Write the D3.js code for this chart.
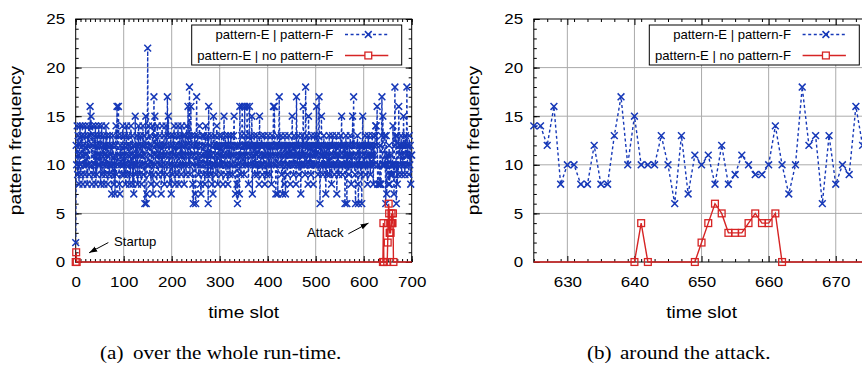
<!DOCTYPE html>
<html lang="en">
<head>
<meta charset="UTF-8">
<title>pattern frequency per time slot</title>
<style>
  body { margin: 0; background: #fff; }
  svg { display: block; }
</style>
<script src="https://d3js.org/d3.v7.min.js"></script>
</head>
<body>
<div id="chart"></div>
<script>
// blue series: pattern-E | pattern-F, one value per time slot (index = slot)
const bothValues = [
  2,12,10,14,9, 13,11,8,12,14, 10,9,13,11,14, 8,12,10,13,9, 14,11,10,12,8,
  13,10,14,9,12, 16,13,15,10,8, 14,12,9,11,13, 10,14,8,12,9, 13,11,10,14,12,
  10,13,8,11,14, 9,12,10,13,8, 11,12,9,14,10, 13,11,8,12,10, 9,13,11,12,10,
  7,12,9,13,10, 8,11,7,12,14, 9,16,10,13,16, 11,8,7,12,10, 13,9,11,14,10,
  12,9,13,11,8, 10,14,12,9,11, 13,10,8,12,9, 14,11,10,13,8, 12,7,10,11,15,
  9,12,10,13,8, 11,14,12,9,10, 13,11,8,12,10, 14,9,13,11,6, 12,15,6,7,10,
  22,10,14,12,9, 13,11,8,12,10, 14,7,9,17,11, 15,10,13,12,8, 14,11,9,12,10,
  13,11,12,7,10, 14,9,12,11,13, 8,10,12,14,11, 9,17,13,15,10, 12,8,11,13,7,
  10,12,9,13,11, 14,10,8,12,11, 13,9,10,14,12, 8,11,13,10,12, 9,14,11,10,13,
  12,8,11,13,10, 9,14,12,11,16, 10,13,18,9,12, 16,11,13,10,8, 6,12,11,13,7,
  6,12,17,10,13, 11,9,12,14,10, 8,7,11,13,12, 10,9,13,11,8, 12,14,10,11,9,
  13,6,16,11,10, 12,9,13,11,8, 10,7,15,12,10, 13,11,9,12,14, 10,8,12,11,13,
  10,12,11,9,13, 10,12,8,11,15, 12,10,13,9,11, 12,10,8,13,11, 12,9,10,13,11,
  12,10,9,11,13, 15,12,10,7,11, 12,8,6,12,10, 11,7,16,12,9, 11,13,16,10,12,
  11,9,16,12,10, 13,11,16,12,10, 8,12,16,11,13, 10,12,15,7,11, 12,10,13,9,12,
  10,12,11,13,9, 12,10,8,15,12, 11,10,13,12,9, 11,10,12,13,8, 11,12,10,9,12,
  11,13,10,12,9, 11,12,10,8,13, 12,11,16,10,16, 12,11,7,10,12, 13,7,11,12,17,
  12,10,11,13,9, 12,7,10,11,12, 8,13,7,11,12, 10,9,12,11,13, 10,12,8,11,12,
  10,15,12,11,9, 13,10,12,11,8, 17,12,10,11,13, 9,12,10,11,7, 12,10,13,11,16,
  12,10,11,9,18, 12,10,13,11,8, 15,12,10,11,12, 9,13,10,12,11, 8,12,10,13,11,
  12,10,16,11,13, 9,12,17,10,6, 12,11,15,10,12, 9,11,13,10,12, 11,7,10,12,9,
  11,12,10,13,9, 12,11,10,8,12, 13,10,11,12,9, 10,12,11,13,7, 10,12,11,9,12,
  10,11,13,12,15, 10,9,12,11,10, 12,6,10,13,11, 6,12,10,11,9, 12,10,13,11,8,
  12,10,15,11,17, 12,10,9,6,11, 12,10,13,8,6, 12,10,11,12,9, 10,6,12,15,10,
  11,12,10,13,9, 12,11,10,8,12, 13,11,10,12,9, 11,12,10,13,11, 8,12,10,11,13,
  14,14,12,16,8, 10,10,8,8,12, 8,8,13,17,10, 15,10,10,10,13, 10,6,13,7,11,
  10,11,8,12,8, 9,11,10,9,9, 10,14,10,7,10, 18,12,13,6,13, 8,10,9,16,12,
  11,12,10,13,9, 12,11,10,15,12, 10,9,13,11,12, 18,10,12,11,9, 13,10,12,8,11,
  11
];

// red series: pattern-E | no pattern-F
const onlySlots  = [0, 1, 2, 640, 641, 642, 649, 650, 651, 652, 653, 654, 655, 656, 657, 658, 659, 660, 661, 662, 710];
const onlyValues = [0, 1, 0, 0,   4,   0,   0,   2,   4,   6,   5,   3,   3,   3,   4,   5,   4,   4,   5,   0,   0];

const seriesNames = ["pattern-E | pattern-F", "pattern-E | no pattern-F"];
const yTicks = [0, 5, 10, 15, 20, 25];

const blue = "#1638b8", red = "#d62424";
const sans = "'Liberation Sans', Arial, Helvetica, sans-serif";
const serif = "'Liberation Serif', 'Times New Roman', serif";

const both = bothValues.map((v, i) => ({slot: i, v: v}));
const only = onlySlots.map((s, i) => ({slot: s, v: onlyValues[i]}));

const svg = d3.select("#chart").append("svg")
  .attr("width", 862)
  .attr("height", 365);

const defs = svg.append("defs");
defs.append("marker")
  .attr("id", "arrow")
  .attr("viewBox", "0 0 10 10")
  .attr("refX", 10).attr("refY", 5)
  .attr("markerWidth", 8).attr("markerHeight", 8)
  .attr("markerUnits", "userSpaceOnUse")
  .attr("orient", "auto")
  .append("path").attr("d", "M0,1.5L10,5L0,8.5z").attr("fill", "#000");

// text stretched horizontally (the original figure is wider than plain Arial)
function sText(g, x, y, str, size, sx, anchor, family) {
  return g.append("text")
    .attr("transform", `translate(${x},${y}) scale(${sx},1)`)
    .attr("text-anchor", anchor)
    .style("font-family", family || sans)
    .style("font-size", size + "px")
    .attr("fill", "#000")
    .text(str);
}

const plotTop = 19, plotH = 243;

const panels = [
  {id: "a", left: 75.7, width: 336, domain: [0, 700], xTicks: d3.range(0, 701, 100), minor: 10,
   caption: ["(a)", "over the whole run-time."], capX: 100, notes: true},
  {id: "b", left: 533.8, width: 335.5, domain: [625, 675], xTicks: [630, 640, 650, 660, 670], minor: 2,
   caption: ["(b)", "around the attack."], capX: 587, notes: false}
];

const notes = [
  {text: "Startup", x: 80, y: 2.1, anchor: "start", from: [68, 2.0], to: [28, 0.95]},
  {text: "Attack", x: 558, y: 3.0, anchor: "end", from: [568, 2.9], to: [610, 4.0]}
];

panels.forEach(p => {
  const g = svg.append("g").attr("transform", `translate(${p.left},${plotTop})`);
  const x = d3.scaleLinear().domain(p.domain).range([0, p.width]);
  const y = d3.scaleLinear().domain([0, 25]).range([plotH, 0]);
  const inX = d => d.slot >= p.domain[0] && d.slot <= p.domain[1];

  // grid
  g.append("g").selectAll("line")
    .data(p.xTicks.filter(t => t > p.domain[0] && t < p.domain[1]))
    .join("line")
    .attr("x1", d => x(d)).attr("x2", d => x(d))
    .attr("y1", 0).attr("y2", plotH)
    .attr("stroke", "#ababab").attr("stroke-width", 1);
  g.append("g").selectAll("line")
    .data(yTicks.filter(t => t > 0 && t < 25))
    .join("line")
    .attr("x1", 0).attr("x2", p.width)
    .attr("y1", d => y(d)).attr("y2", d => y(d))
    .attr("stroke", "#ababab").attr("stroke-width", 1);

  // border
  g.append("rect")
    .attr("width", p.width).attr("height", plotH)
    .attr("fill", "none").attr("stroke", "#000").attr("stroke-width", 1);

  // minor ticks, all four sides
  const xMinor = d3.range(p.domain[0], p.domain[1] + 0.001, p.minor);
  const yMinor = d3.range(0, 25.001, 1);
  const tickAxes = [
    [d3.axisBottom(x).tickValues(xMinor).tickSize(-3), `translate(0,${plotH})`],
    [d3.axisTop(x).tickValues(xMinor).tickSize(-3), null],
    [d3.axisLeft(y).tickValues(yMinor).tickSize(-3), null],
    [d3.axisRight(y).tickValues(yMinor).tickSize(-3), `translate(${p.width},0)`],
    [d3.axisTop(x).tickValues(p.xTicks).tickSize(-6), null],
    [d3.axisRight(y).tickValues(yTicks).tickSize(-6), `translate(${p.width},0)`]
  ];
  tickAxes.forEach(([ax, tr]) => {
    const a = g.append("g").call(ax.tickFormat("").tickSizeOuter(0));
    if (tr) a.attr("transform", tr);
    a.select(".domain").remove();
    a.selectAll("line").attr("stroke", "#000");
  });

  // labelled axes
  const xa = g.append("g").attr("transform", `translate(0,${plotH})`)
    .call(d3.axisBottom(x).tickValues(p.xTicks).tickSize(-6).tickSizeOuter(0).tickPadding(14.7));
  const ya = g.append("g")
    .call(d3.axisLeft(y).tickValues(yTicks).tickSize(-6).tickSizeOuter(0).tickPadding(9.4));
  [xa, ya].forEach(a => {
    a.select(".domain").remove();
    a.selectAll("line").attr("stroke", "#000");
    a.selectAll("text")
      .attr("transform", "scale(1.13,1)")
      .attr("fill", "#000")
      .style("font-family", sans)
      .style("font-size", "15px");
  });

  // axis titles
  sText(g, p.width / 2, 299.3, "time slot", 16, 1.19, "middle");
  g.append("g")
    .attr("transform", `translate(-54.5,${plotH / 2}) rotate(-90)`)
    .call(t => sText(t, 0, 0, "pattern frequency", 16, 1.2, "middle"));

  // data
  const clipId = "clip-" + p.id;
  defs.append("clipPath").attr("id", clipId)
    .append("rect").attr("x", 0).attr("y", -4).attr("width", p.width).attr("height", plotH + 8);
  const dg = g.append("g");
  const line = d3.line().x(d => x(d.slot)).y(d => y(d.v));

  dg.append("path").datum(both)
    .attr("clip-path", `url(#${clipId})`)
    .attr("fill", "none").attr("stroke", blue).attr("stroke-width", 1.4)
    .attr("stroke-dasharray", "3,2.6")
    .attr("d", line);
  dg.append("g").selectAll("path")
    .data(both.filter(inX))
    .join("path")
    .attr("transform", d => `translate(${x(d.slot)},${y(d.v)})`)
    .attr("d", "M-3.4,-3.4L3.4,3.4M-3.4,3.4L3.4,-3.4")
    .attr("stroke", blue).attr("stroke-width", 1.5).attr("fill", "none");

  dg.append("path").datum(only)
    .attr("clip-path", `url(#${clipId})`)
    .attr("fill", "none").attr("stroke", red).attr("stroke-width", 1.4)
    .attr("d", line);
  dg.append("g").selectAll("rect")
    .data(only.filter(inX))
    .join("rect")
    .attr("x", d => x(d.slot) - 3.4).attr("y", d => y(d.v) - 3.4)
    .attr("width", 6.8).attr("height", 6.8)
    .attr("fill", "none").attr("stroke", red).attr("stroke-width", 1.3);

  // annotations
  if (p.notes) {
    notes.forEach(n => {
      sText(g, x(n.x), y(n.y) + 4.5, n.text, 12.5, 1.05, n.anchor);
      g.append("line")
        .attr("x1", x(n.from[0])).attr("y1", y(n.from[1]))
        .attr("x2", x(n.to[0])).attr("y2", y(n.to[1]))
        .attr("stroke", "#000").attr("stroke-width", 1)
        .attr("marker-end", "url(#arrow)");
    });
  }

  // legend
  const lg = g.append("g").attr("transform", `translate(${p.width - 220},6)`);
  lg.append("rect").attr("width", 210).attr("height", 40)
    .attr("fill", "#fff").attr("stroke", "#000").attr("stroke-width", 1);
  [0, 1].forEach(i => {
    const cy = 9.5 + i * 21;
    sText(lg, 141.6, cy + 4, seriesNames[i], 12.5, 1.05, "end");
    lg.append("line")
      .attr("x1", 153.3).attr("x2", 196.6).attr("y1", cy).attr("y2", cy)
      .attr("stroke", i ? red : blue).attr("stroke-width", 1.4)
      .attr("stroke-dasharray", i ? null : "3,2.6");
    if (i) {
      lg.append("rect").attr("x", 176.6 - 3.4).attr("y", cy - 3.4)
        .attr("width", 6.8).attr("height", 6.8)
        .attr("fill", "#fff").attr("stroke", red).attr("stroke-width", 1.3);
    } else {
      lg.append("path")
        .attr("transform", `translate(176.6,${cy})`)
        .attr("d", "M-3.4,-3.4L3.4,3.4M-3.4,3.4L3.4,-3.4")
        .attr("stroke", blue).attr("stroke-width", 1.5);
    }
  });

  // caption
  const cap = svg.append("g");
  sText(cap, p.capX, 359, p.caption[0], 19, 1.11, "start", serif);
  sText(cap, p.capX + 33, 359, p.caption[1], 19, 1.11, "start", serif);
});
</script>
</body>
</html>
